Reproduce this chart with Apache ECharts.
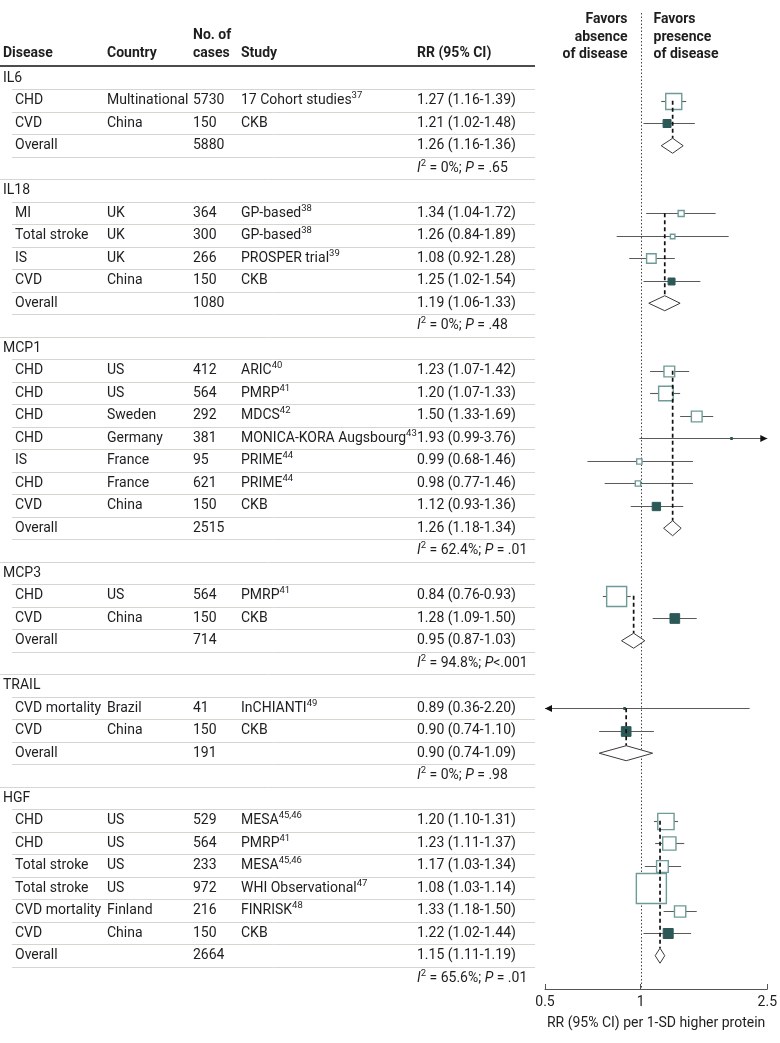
<!DOCTYPE html>
<html><head><meta charset="utf-8">
<script src="https://cdn.jsdelivr.net/npm/echarts@6/dist/echarts.min.js"></script>
<style>html,body{margin:0;padding:0;background:#fff}#c{width:780px;height:1043px}</style>
</head><body><div id="c"></div>
<script>
// ---------- DATA ----------
const groupNames = ['IL6', 'IL18', 'MCP1', 'MCP3', 'TRAIL', 'HGF'];
const overallCases = [5880, 1080, 2515, 714, 191, 2664];
const overallRR = [1.26, 1.19, 1.26, 0.95, 0.90, 1.15];
const overallLo = [1.16, 1.06, 1.18, 0.87, 0.74, 1.11];
const overallHi = [1.36, 1.33, 1.34, 1.03, 1.09, 1.19];
const hetI2 = ['0%', '0%', '62.4%', '94.8%', '0%', '65.6%'];
const hetP = [' = .65', ' = .48', ' = .01', '<.001', ' = .98', ' = .01'];

const studyGroup = [0, 0, 1, 1, 1, 1, 2, 2, 2, 2, 2, 2, 2, 3, 3, 4, 4, 5, 5, 5, 5, 5, 5];
const studyDisease = ['CHD', 'CVD', 'MI', 'Total stroke', 'IS', 'CVD', 'CHD', 'CHD', 'CHD', 'CHD', 'IS', 'CHD', 'CVD', 'CHD', 'CVD', 'CVD mortality', 'CVD', 'CHD', 'CHD', 'Total stroke', 'Total stroke', 'CVD mortality', 'CVD'];
const studyCountry = ['Multinational', 'China', 'UK', 'UK', 'UK', 'China', 'US', 'US', 'Sweden', 'Germany', 'France', 'France', 'China', 'US', 'China', 'Brazil', 'China', 'US', 'US', 'US', 'US', 'Finland', 'China'];
const studyCases = [5730, 150, 364, 300, 266, 150, 412, 564, 292, 381, 95, 621, 150, 564, 150, 41, 150, 529, 564, 233, 972, 216, 150];
const studyName = ['17 Cohort studies', 'CKB', 'GP-based', 'GP-based', 'PROSPER trial', 'CKB', 'ARIC', 'PMRP', 'MDCS', 'MONICA-KORA Augsbourg', 'PRIME', 'PRIME', 'CKB', 'PMRP', 'CKB', 'InCHIANTI', 'CKB', 'MESA', 'PMRP', 'MESA', 'WHI Observational', 'FINRISK', 'CKB'];
const studyRef = ['37', '', '38', '38', '39', '', '40', '41', '42', '43', '44', '44', '', '41', '', '49', '', '45,46', '41', '45,46', '47', '48', ''];
const studyRR = [1.27, 1.21, 1.34, 1.26, 1.08, 1.25, 1.23, 1.20, 1.50, 1.93, 0.99, 0.98, 1.12, 0.84, 1.28, 0.89, 0.90, 1.20, 1.23, 1.17, 1.08, 1.33, 1.22];
const studyLo = [1.16, 1.02, 1.04, 0.84, 0.92, 1.02, 1.07, 1.07, 1.33, 0.99, 0.68, 0.77, 0.93, 0.76, 1.09, 0.36, 0.74, 1.10, 1.11, 1.03, 1.03, 1.18, 1.02];
const studyHi = [1.39, 1.48, 1.72, 1.89, 1.28, 1.54, 1.42, 1.33, 1.69, 3.76, 1.46, 1.46, 1.36, 0.93, 1.50, 2.20, 1.10, 1.31, 1.37, 1.34, 1.14, 1.50, 1.44];
// estimated relative study weights (box area)
const studyWeight = [8.5, 2.1, 1.2, 0.67, 3.0, 1.6, 3.8, 7.0, 3.8, 0.13, 0.93, 0.93, 2.3, 13.2, 3.1, 0.13, 3.1, 8.8, 5.8, 4.5, 29.8, 4.2, 3.3];

const xTicks = [0.5, 1, 2.5];
const xMinRR = 0.5, xMaxRR = 2.5;
const xTitle = 'RR (95% CI) per 1-SD higher protein';

// ---------- LAYOUT / STYLE ----------
const FONT = 'Roboto, "Noto Sans", sans-serif';
const FS = 14;
const TXT = '#1e1e1e';
const XMIN = Math.log(xMinRR), XMAX = Math.log(xMaxRR);
const Y_MIN = -0.5, Y_MAX = 40.48;
const GRID_TOP = 67, GRID_BOTTOM = 54;
const COL = {group: 3, disease: 15, country: 107, cases: 193, study: 241, rr: 417, right: 535};

// build table rows
const rows = [];
groupNames.forEach((g, gi) => {
  rows.push({kind: 'group', g: gi});
  const first = rows.length;
  studyGroup.forEach((sg, si) => { if (sg === gi) rows.push({kind: 'study', s: si}); });
  rows.push({kind: 'overall', g: gi, first: first});
  rows.push({kind: 'het', g: gi});
});
const fmt = v => v.toFixed(2);
const rrText = (r, l, h) => fmt(r) + ' (' + fmt(l) + '-' + fmt(h) + ')';

const rich = {
  n: {fontSize: FS, fontFamily: FONT, fill: TXT, color: TXT, lineHeight: 20},
  i: {fontSize: FS, fontFamily: FONT, fontStyle: 'italic', fill: TXT, color: TXT, lineHeight: 20},
  sup: {fontSize: 9.5, fontFamily: FONT, fill: TXT, color: TXT, lineHeight: 10, verticalAlign: 'top'}
};

function tableItem(params, api) {
  const idx = api.value(1);
  const r = rows[idx];
  const y = api.coord([0, idx])[1];
  const yb = Math.round(api.coord([0, idx + 0.5])[1]) + 0.5;
  const ch = [];
  const txt = (x, s) => ch.push({type: 'text', style: {x: x, y: y, text: s, fill: TXT, fontSize: FS, fontFamily: FONT, verticalAlign: 'middle', align: 'left'}});
  const rtxt = (x, s) => ch.push({type: 'text', style: {x: x, y: y, text: s, rich: rich, verticalAlign: 'middle', align: 'left', fontSize: FS, fontFamily: FONT, fill: TXT}});
  if (r.kind === 'group') {
    txt(COL.group, groupNames[r.g]);
  } else if (r.kind === 'study') {
    const s = r.s;
    txt(COL.disease, studyDisease[s]);
    txt(COL.country, studyCountry[s]);
    txt(COL.cases, String(studyCases[s]));
    rtxt(COL.study, '{n|' + studyName[s] + '}' + (studyRef[s] ? '{sup|' + studyRef[s] + '}' : ''));
    txt(COL.rr, rrText(studyRR[s], studyLo[s], studyHi[s]));
  } else if (r.kind === 'overall') {
    const g = r.g;
    txt(COL.disease, 'Overall');
    txt(COL.cases, String(overallCases[g]));
    txt(COL.rr, rrText(overallRR[g], overallLo[g], overallHi[g]));
  } else {
    const g = r.g;
    rtxt(COL.rr, '{i|I}{sup|2}{n| = ' + hetI2[g] + '; }{i|P}{n|' + hetP[g] + '}');
  }
  if (idx < rows.length - 1) {
    const x0 = r.kind === 'het' ? 0 : 12;
    ch.push({type: 'line', shape: {x1: x0, y1: yb, x2: COL.right, y2: yb}, style: {stroke: '#d6d6d0', lineWidth: 1}});
  }
  return {type: 'group', children: ch};
}

// forest data
const studyData = [];
rows.forEach((r, i) => {
  if (r.kind === 'study') {
    const s = r.s;
    studyData.push([Math.log(studyRR[s]), i, Math.log(studyLo[s]), Math.log(studyHi[s]), studyWeight[s], studyName[s] === 'CKB' ? 1 : 0]);
  }
});
const overallData = [];
rows.forEach((r, i) => {
  if (r.kind === 'overall') {
    const g = r.g;
    overallData.push([Math.log(overallRR[g]), i, Math.log(overallLo[g]), Math.log(overallHi[g]), r.first]);
  }
});

function studyItem(params, api) {
  const rr = api.value(0), row = api.value(1), lo = api.value(2), hi = api.value(3), w = api.value(4), ckb = api.value(5);
  const p = api.coord([rr, row]);
  const cx = p[0], cy = Math.round(p[1]) + 0.5;
  const xmin = api.coord([XMIN, row])[0], xmax = api.coord([XMAX, row])[0];
  const xl = api.coord([Math.max(lo, XMIN), row])[0];
  const xr = api.coord([Math.min(hi, XMAX), row])[0];
  const ch = [];
  ch.push({type: 'line', shape: {x1: xl, y1: cy, x2: xr, y2: cy}, style: {stroke: '#5a5a5a', lineWidth: 1.1}});
  if (lo < XMIN) ch.push({type: 'polygon', shape: {points: [[xmin, cy], [xmin + 7, cy - 3.5], [xmin + 7, cy + 3.5]]}, style: {fill: '#111'}});
  if (hi > XMAX) ch.push({type: 'polygon', shape: {points: [[xmax, cy], [xmax - 7, cy - 3.5], [xmax - 7, cy + 3.5]]}, style: {fill: '#111'}});
  const s = Math.max(2, 5.5 * Math.sqrt(w));
  ch.push({type: 'rect', shape: {x: cx - s / 2, y: cy - s / 2, width: s, height: s},
    style: (ckb || s < 3) ? {fill: '#2c5957', stroke: '#2c5957', lineWidth: 1} : {fill: '#fff', stroke: '#6e9b97', lineWidth: 1.4}});
  return {type: 'group', children: ch};
}

function overallItem(params, api) {
  const rr = api.value(0), row = api.value(1), lo = api.value(2), hi = api.value(3), first = api.value(4);
  const p = api.coord([rr, row]);
  const cx = p[0], cy = p[1];
  const y0 = api.coord([rr, first])[1];
  const xl = api.coord([lo, row])[0], xr = api.coord([hi, row])[0];
  const h = 7.5;
  return {type: 'group', children: [
    {type: 'line', shape: {x1: cx, y1: y0, x2: cx, y2: cy - h}, style: {stroke: '#111', lineWidth: 1.7, lineDash: [4, 3]}},
    {type: 'polygon', shape: {points: [[xl, cy], [cx, cy - h], [xr, cy], [cx, cy + h]]}, style: {fill: '#fff', stroke: '#3a3a3a', lineWidth: 1}}
  ]};
}

function refItem(params, api) {
  const x = Math.round(api.coord([0, 0])[0]) + 0.5;
  const yBot = api.coord([0, Y_MAX])[1];
  const fav = {fontSize: FS, fontWeight: 'bold', fontFamily: FONT, fill: TXT, lineHeight: 17.5, verticalAlign: 'top'};
  return {type: 'group', children: [
    {type: 'line', shape: {x1: x, y1: 13, x2: x, y2: yBot}, style: {stroke: '#444', lineWidth: 1, lineDash: [1.5, 2]}},
    {type: 'text', style: Object.assign({x: x - 14, y: 11, text: 'Favors\nabsence\nof disease', align: 'right'}, fav)},
    {type: 'text', style: Object.assign({x: x + 12, y: 11, text: 'Favors\npresence\nof disease', align: 'left'}, fav)}
  ]};
}

const chart = echarts.init(document.getElementById('c'), null, {renderer: 'canvas'});
const hdr = (x, y, t) => ({type: 'text', left: x, top: y - 9, style: {text: t, fontSize: FS, fontWeight: 'bold', fontFamily: FONT, fill: TXT}});
chart.setOption({
  animation: false,
  grid: [
    {left: 0, width: 540, top: GRID_TOP, bottom: GRID_BOTTOM},
    {left: 545, right: 11, top: GRID_TOP, bottom: GRID_BOTTOM}
  ],
  xAxis: [
    {gridIndex: 0, type: 'value', min: 0, max: 540, show: false},
    {gridIndex: 1, type: 'value', min: XMIN, max: XMAX,
      axisLine: {show: true, onZero: false, lineStyle: {color: '#555', width: 1}},
      axisTick: {show: true, inside: true, length: 5, customValues: xTicks.map(Math.log), lineStyle: {color: '#555'}},
      axisLabel: {customValues: xTicks.map(Math.log), formatter: v => String(+Math.exp(v).toFixed(1)), color: TXT, fontSize: FS, fontFamily: FONT, margin: 6},
      splitLine: {show: false},
      name: xTitle, nameLocation: 'middle', nameGap: 27,
      nameTextStyle: {fontSize: FS, fontFamily: FONT, color: TXT}}
  ],
  yAxis: [
    {gridIndex: 0, type: 'value', min: Y_MIN, max: Y_MAX, inverse: true, show: false},
    {gridIndex: 1, type: 'value', min: Y_MIN, max: Y_MAX, inverse: true, show: false}
  ],
  graphic: [
    hdr(COL.cases, 37, 'No. of'),
    hdr(COL.group, 55, 'Disease'),
    hdr(COL.country, 55, 'Country'),
    hdr(COL.cases, 55, 'cases'),
    hdr(COL.study, 55, 'Study'),
    hdr(COL.rr, 55, 'RR (95% CI)'),
    {type: 'line', shape: {x1: 0, y1: 66, x2: COL.right, y2: 66}, style: {stroke: '#111', lineWidth: 1.5}}
  ],
  series: [
    {type: 'custom', xAxisIndex: 0, yAxisIndex: 0, renderItem: tableItem, data: rows.map((r, i) => [0, i]), clip: false, silent: true},
    {type: 'custom', xAxisIndex: 1, yAxisIndex: 1, renderItem: refItem, data: [[0, 0]], clip: false, z: 1, silent: true},
    {type: 'custom', xAxisIndex: 1, yAxisIndex: 1, renderItem: studyItem, data: studyData, clip: false, z: 2, silent: true},
    {type: 'custom', xAxisIndex: 1, yAxisIndex: 1, renderItem: overallItem, data: overallData, clip: false, z: 3, silent: true}
  ]
});
</script>
</body></html>
